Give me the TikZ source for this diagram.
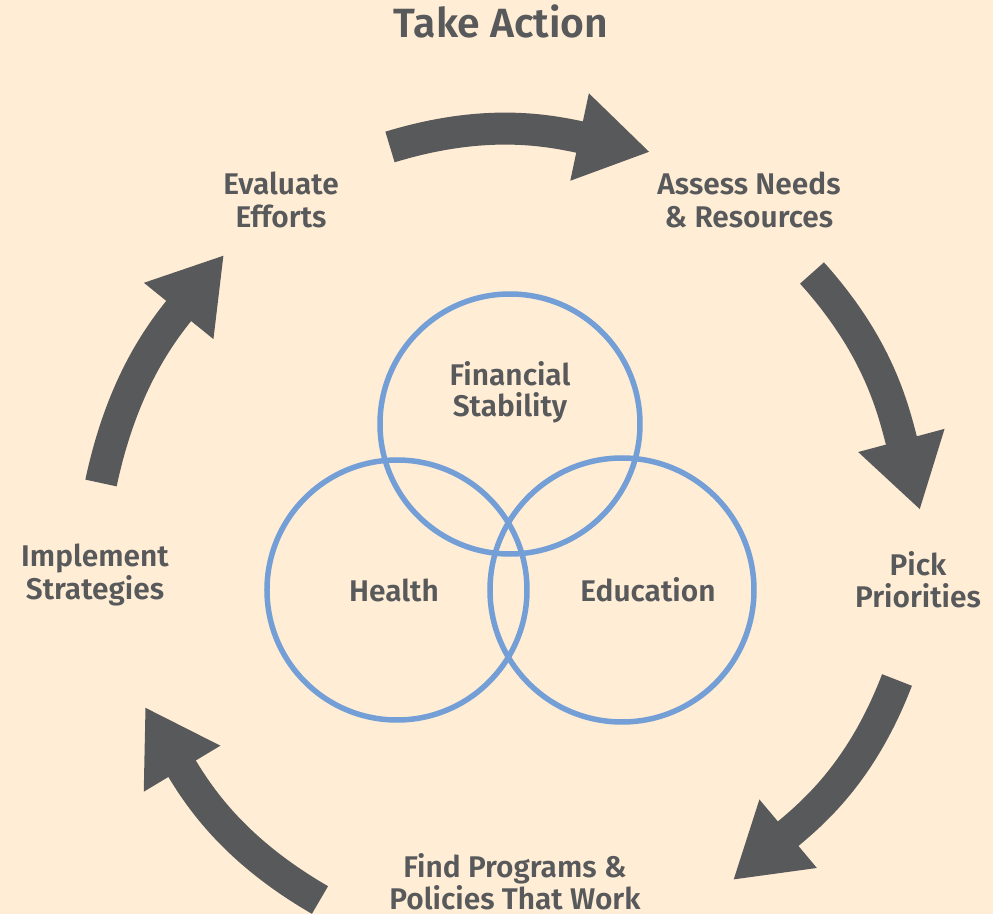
\documentclass[tikz,border=0pt]{standalone}
\usepackage{fontspec}
\setmainfont{Fira Sans}[BoldFont={Fira Sans SemiBold}]
\usetikzlibrary{arrows.meta}
\definecolor{paper}{HTML}{FFEDD6}
\definecolor{ink}{HTML}{58595B}
\definecolor{venn}{HTML}{739FD6}

\begin{document}
\begin{tikzpicture}[x=1bp, y=1bp,
stage/.style={align=center, text=ink, font=\bfseries\fontsize{30}{32.5}\selectfont, inner sep=0pt},
area/.style={align=center, text=ink, font=\bfseries\fontsize{30}{31}\selectfont, inner sep=0pt},
ring/.style={draw=venn, line width=5.5bp},
flow/.style={draw=ink, line width=32bp, line cap=butt, -{Triangle[length=72bp, width=84bp]}} ]
\fill[paper] (-505,-404) rectangle (488,510);
\useasboundingbox (-505,-404) rectangle (488,510);

\node (title) [text=ink, font=\bfseries\fontsize{41}{46}\selectfont, anchor=base] at (-4,472) {Take Action};

\node (eval) [stage] at (-224,310) {Evaluate\\Efforts};
\node (assess) [stage] at (244,310) {Assess Needs\\\& Resources};
\node (pick) [stage] at (413,-70) {Pick\\Priorities};
\node (find) [stage] at (10,-372) {Find Programs \&\\Policies That Work};
\node (impl) [stage] at (-410,-65) {Implement\\Strategies};

\draw[ring] (5,86) circle[radius=130];
\draw[ring] (-108,-80) circle[radius=130];
\draw[ring] (117,-80) circle[radius=132];

\node (fin) [area] at (5,118) {Financial\\Stability};
\node (health) [area] at (-111,-80) {Health};
\node (edu) [area] at (143,-80) {Education};

\coordinate (t1) at (-115,363); \coordinate (h1) at (145,358);
\coordinate (t2) at (307,237);  \coordinate (h2) at (415,0);
\coordinate (t3) at (392,-170); \coordinate (h3) at (228,-370);
\coordinate (t4) at (-185,-390); \coordinate (h4) at (-360,-197);
\coordinate (t5) at (-404,27);  \coordinate (h5) at (-281,255);

\draw[flow] (t1) to[out=17, in=168] (h1);
\draw[flow] (t2) to[out=-48, in=105] (h2);
\draw[flow] (t3) to[out=-111, in=40] (h3);
\draw[flow] (t4) to[out=150, in=-59] (h4);
\draw[flow] (t5) to[out=78, in=231] (h5);

\end{tikzpicture}
\end{document}
